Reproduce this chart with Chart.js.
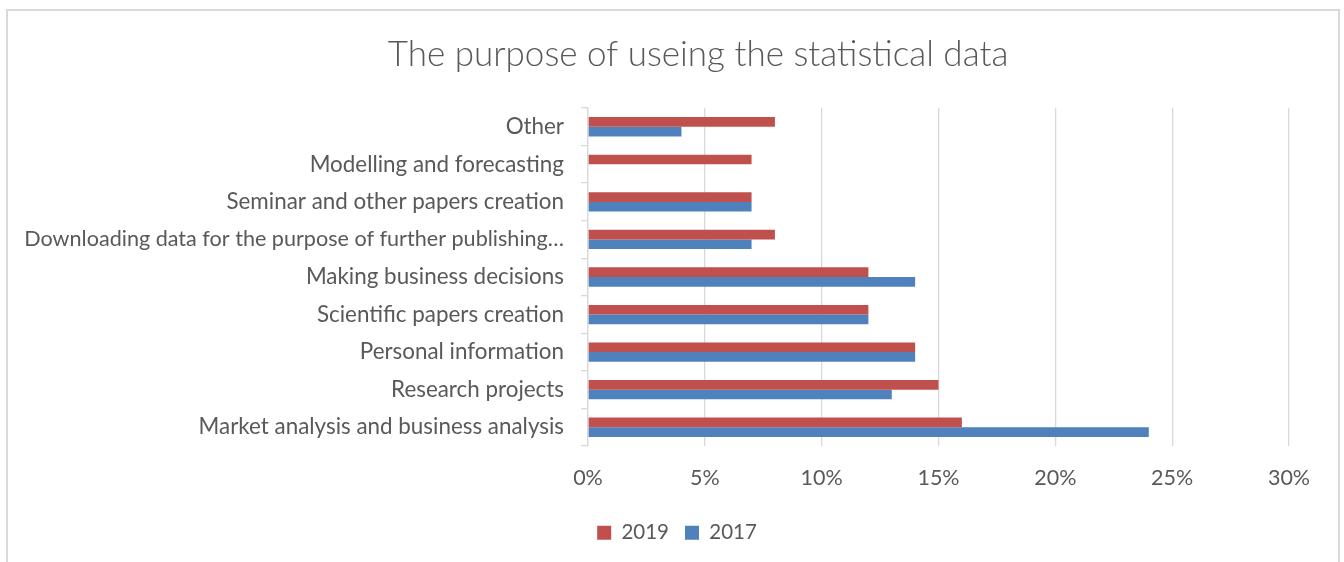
<!DOCTYPE html>
<html>
<head>
<meta charset="utf-8">
<script src="https://cdn.jsdelivr.net/npm/chart.js@4/dist/chart.umd.min.js"></script>
<style>
  html, body { margin: 0; padding: 0; background: #ffffff; }
  #wrap { position: relative; width: 1344px; height: 562px; overflow: hidden; }
  #frame { position: absolute; left: 6px; top: 9px; width: 1334px; height: 600px;
           border: 2px solid #d9d9d9; box-sizing: border-box; }
  #chart { position: absolute; left: 0; top: 0; }
</style>
</head>
<body>
<div id="wrap">
  <div id="frame"></div>
  <canvas id="chart" width="1344" height="562"></canvas>
</div>
<script>
const categories = [
  'Other',
  'Modelling and forecasting',
  'Seminar and other papers creation',
  'Downloading data for the purpose of further publishing…',
  'Making business decisions',
  'Scientific papers creation',
  'Personal information',
  'Research projects',
  'Market analysis and business analysis'
];
const values2019 = [8, 7, 7, 8, 12, 12, 14, 15, 16];
const values2017 = [4, 0, 7, 7, 14, 12, 14, 13, 24];
const xTicks = [0, 5, 10, 15, 20, 25, 30];

const FONT = 'Lato, "Open Sans", sans-serif';
const TEXT = '#595959';
const GRID = '#d9d9d9';
const LABEL_SIZE = 22.4;
const LABEL_MAX_WIDTH = 540;

// Shrink a category label slightly if it would run past the frame on the left
const measureCtx = document.createElement('canvas').getContext('2d');
function labelSize(text) {
  measureCtx.font = LABEL_SIZE + 'px ' + FONT;
  const w = measureCtx.measureText(text).width;
  return w > LABEL_MAX_WIDTH ? LABEL_SIZE * LABEL_MAX_WIDTH / w : LABEL_SIZE;
}

// Slide the title and the legend sideways so they sit centred in the frame
const blockShift = {
  id: 'blockShift',
  afterLayout(chart) {
    const t = chart.titleBlock;
    if (t) { t.left += 53.5; t.right += 53.5; }
    const l = chart.legend;
    if (l) { l.left += 32.5; l.right += 32.5; }
  }
};

new Chart(document.getElementById('chart'), {
  type: 'bar',
  data: {
    labels: categories,
    datasets: [
      { label: '2019', data: values2019, backgroundColor: '#C0504D', borderWidth: 0 },
      { label: '2017', data: values2017, backgroundColor: '#4F81BD', borderWidth: 0 }
    ]
  },
  plugins: [blockShift],
  options: {
    indexAxis: 'y',
    responsive: false,
    animation: false,
    layout: { padding: { left: 0, right: 55, top: 0, bottom: 9 } },
    datasets: { bar: { categoryPercentage: 0.515, barPercentage: 1.0 } },
    plugins: {
      title: {
        display: true,
        text: 'The purpose of useing the statistical data',
        color: TEXT,
        font: { family: FONT, size: 35, weight: '300' },
        padding: { top: 33.5, bottom: 32.5 }
      },
      legend: {
        position: 'bottom',
        labels: {
          color: TEXT,
          font: { family: FONT, size: 20.5 },
          boxWidth: 14, boxHeight: 14,
          padding: 16
        }
      },
      tooltip: { enabled: false }
    },
    scales: {
      x: {
        min: 0, max: 30,
        afterBuildTicks: (scale) => { scale.ticks = xTicks.map(v => ({ value: v })); },
        afterFit: (scale) => { scale.height = 60.5; },
        ticks: {
          color: TEXT,
          font: { family: FONT, size: 21.5 },
          padding: 19,
          callback: (v) => v + '%'
        },
        grid: { color: GRID, lineWidth: 1.3, drawTicks: false },
        border: { display: false }
      },
      y: {
        afterFit: (scale) => { scale.width = 588; },
        ticks: {
          color: TEXT,
          font: (ctx) => ({ family: FONT, size: labelSize(categories[ctx.index] || '') }),
          padding: 17,
          autoSkip: false
        },
        grid: { color: GRID, lineWidth: 1.3, drawOnChartArea: false, drawTicks: true, tickLength: 7 },
        border: { color: GRID, width: 1.3 }
      }
    }
  }
});
</script>
</body>
</html>
